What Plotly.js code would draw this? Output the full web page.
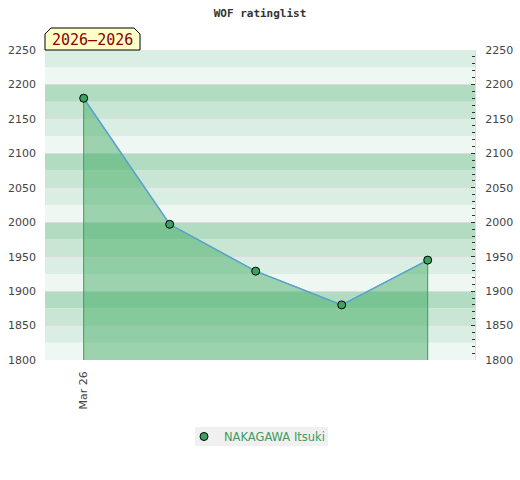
<!DOCTYPE html>
<html>
<head>
<meta charset="utf-8">
<script src="https://cdn.plot.ly/plotly-3.0.1.min.js"></script>
<style>html,body{margin:0;padding:0;background:#fff;}#chart{width:520px;height:480px;}</style>
</head>
<body>
<div id="chart"></div>
<script>
// ---- data ----
const periods = ['Mar 26', 'P2', 'P3', 'P4', 'P5'];
const ratings = [2180, 1997, 1929, 1880, 1945];
const tickShown = ['Mar 26'];
const playerName = 'NAKAGAWA Itsuki';
const chartTitle = 'WOF ratinglist';
const periodLabel = '2026\u20132026';
const yMin = 1800, yMax = 2250;

// ---- styles ----
const bandColors = ['#eff7f2', '#dbeee3', '#c8e6d3', '#b2dcc2']; // bottom -> top within each 100
const shapes = [];
for (let v = yMin, i = 0; v < yMax; v += 25, i++) {
  shapes.push({type: 'rect', xref: 'paper', yref: 'y', x0: 0, x1: 1, y0: v, y1: v + 25,
    fillcolor: bandColors[i % 4], line: {width: 0}, layer: 'below'});
}
// tag box with cut top corners (paper coords)
const L = 0, R = 95 / 430, B = 1, T = 1 + 22 / 310, cx = 6 / 430, cy = 6 / 310;
shapes.push({type: 'path', xref: 'paper', yref: 'paper',
  path: `M ${L},${B} L ${L},${T - cy} L ${L + cx},${T} L ${R - cx},${T} L ${R},${T - cy} L ${R},${B} Z`,
  fillcolor: '#ffffc8', line: {color: '#000', width: 1}, layer: 'above'});
// legend background box (paper coords)
shapes.push({type: 'rect', xref: 'paper', yref: 'paper',
  x0: (195 - 45) / 430, x1: (328 - 45) / 430, y0: (360 - 446) / 310, y1: (360 - 427) / 310,
  fillcolor: '#f0f0f0', line: {width: 0}, layer: 'below'});

const fillX = [periods[0], ...periods, periods[periods.length - 1]];
const fillY = [yMin, ...ratings, yMin];

const traces = [
  {x: fillX, y: fillY, mode: 'lines', fill: 'toself', fillcolor: 'rgba(50,166,87,0.44)',
   line: {color: '#2ea353', width: 1}, showlegend: false, hoverinfo: 'skip'},
  {x: periods, y: ratings, mode: 'lines', line: {color: '#5ba3d6', width: 1.5}, showlegend: false},
  {x: periods, y: ratings, mode: 'markers', name: playerName,
   marker: {color: '#3aa35f', size: 8, line: {color: '#000', width: 1}}},
  {x: periods, y: ratings, yaxis: 'y2', mode: 'markers', marker: {opacity: 0}, showlegend: false, hoverinfo: 'skip'}
];

const tickFont = {family: 'DejaVu Sans', size: 11, color: '#444'};
const layout = {
  width: 520, height: 480,
  margin: {l: 45, r: 45, t: 50, b: 120},
  paper_bgcolor: '#fff', plot_bgcolor: '#fff',
  title: {text: chartTitle, x: 0.5, xanchor: 'center', y: 0.973, yanchor: 'middle',
    font: {family: 'DejaVu Sans Mono', size: 11, color: '#333', weight: 'bold'}},
  xaxis: {type: 'category', range: [-0.45, 4.55], tickvals: tickShown, ticktext: tickShown,
    tickangle: -90, tickfont: tickFont, showgrid: false, zeroline: false, showline: false, ticks: '',
    ticklabelstandoff: 8, fixedrange: true},
  yaxis: {range: [yMin, yMax], dtick: 50, tickfont: tickFont, showgrid: true, gridcolor: '#dcdcdc', gridwidth: 1,
    zeroline: false, ticks: '', showline: false, ticklabelstandoff: 8},
  yaxis2: {range: [yMin, yMax], dtick: 50, overlaying: 'y', side: 'right', tickfont: tickFont,
    showgrid: false, zeroline: false, ticks: 'inside', ticklen: 4, tickcolor: '#333',
    minor: {dtick: 10, ticks: 'inside', ticklen: 3, tickcolor: '#333'},
    showline: true, linecolor: '#dcdcdc', ticklabelstandoff: 7},
  shapes: shapes,
  annotations: [{text: periodLabel, xref: 'paper', yref: 'paper', x: 47.5 / 430, y: 1 + 10 / 310,
    xanchor: 'center', yanchor: 'middle', showarrow: false,
    font: {family: 'DejaVu Sans Mono', size: 15, color: '#8b0000'}}],
  legend: {orientation: 'h', x: (184 - 45) / 430, xanchor: 'left', y: (360 - 422) / 310, yanchor: 'top',
    bgcolor: 'rgba(0,0,0,0)', font: {family: 'DejaVu Sans', size: 11.5, color: '#3a9e5e'}},
  showlegend: true
};
Plotly.newPlot('chart', traces, layout, {displayModeBar: false, staticPlot: true});
</script>
</body>
</html>
